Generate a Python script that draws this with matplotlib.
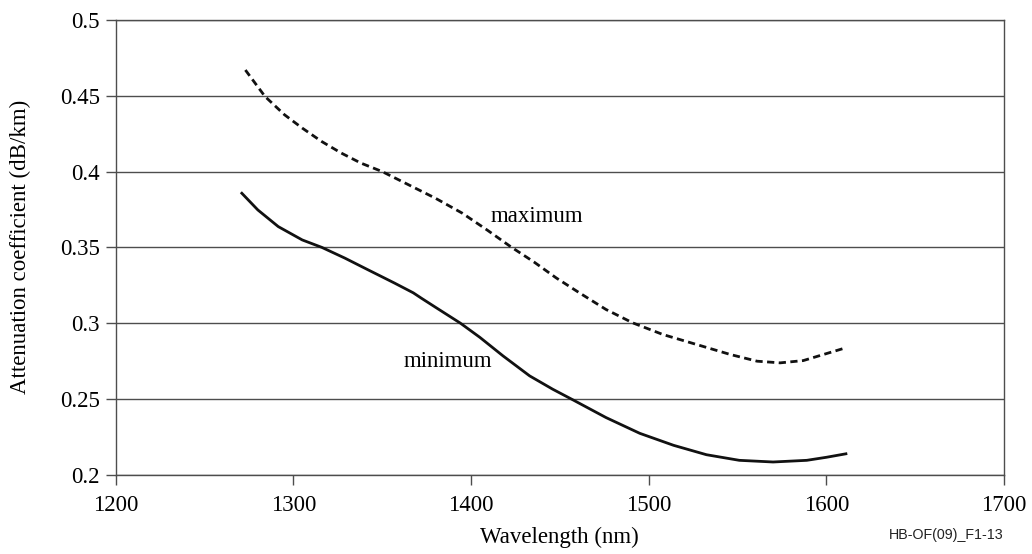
import matplotlib
matplotlib.use("Agg")
import matplotlib.pyplot as plt

# Werte
wl_min = [1271, 1280, 1291.5, 1305, 1316, 1329, 1342, 1349, 1357, 1367.5, 1372,
          1380.5, 1394, 1405, 1418, 1433, 1446, 1457.5, 1476, 1495, 1514, 1532.5,
          1551, 1570, 1589, 1600, 1611]
att_min = [0.3857, 0.3747, 0.3637, 0.3549, 0.350, 0.3429, 0.3352, 0.3311, 0.3264,
           0.3200, 0.3165, 0.3101, 0.300, 0.2906, 0.2784, 0.2652, 0.2564, 0.2493,
           0.2377, 0.2273, 0.2194, 0.2132, 0.2095, 0.2084, 0.2095, 0.2115, 0.2138]

wl_max = [1273, 1284, 1295, 1305, 1316, 1327, 1338, 1350, 1365, 1380, 1395,
          1409, 1422.5, 1435.5, 1448, 1461, 1476, 1491, 1508, 1527, 1546, 1561,
          1574, 1587, 1600, 1610.5]
att_max = [0.467, 0.4496, 0.4375, 0.4287, 0.4198, 0.4122, 0.4056, 0.400, 0.3912,
           0.3824, 0.3726, 0.3615, 0.3503, 0.3403, 0.3298, 0.320, 0.309, 0.3002,
           0.2925, 0.2859, 0.2793, 0.2749, 0.2738, 0.2753, 0.2799, 0.2836]

x_ticks = [1200, 1300, 1400, 1500, 1600, 1700]
y_ticks = [0.2, 0.25, 0.3, 0.35, 0.4, 0.45, 0.5]
y_tick_labels = ["0.2", "0.25", "0.3", "0.35", "0.4", "0.45", "0.5"]

plt.rcParams['font.family'] = ['Liberation Serif', 'DejaVu Serif']
grid_col = '#4d4d4d'

fig = plt.figure(figsize=(10.32, 5.54), dpi=100)
ax = fig.add_axes([0.1121, 0.1431, 0.8608, 0.8208])

ax.plot(wl_max, att_max, color='#111111', lw=2.0, ls=(0, (2.6, 1.6)))
ax.plot(wl_min, att_min, color='#111111', lw=2.0)

ax.set_xlim(1200, 1700)
ax.set_ylim(0.2, 0.5)
ax.set_xticks(x_ticks)
ax.set_yticks(y_ticks)
ax.set_yticklabels(y_tick_labels)
ax.yaxis.grid(True, color=grid_col, lw=1.0)
ax.set_axisbelow(True)
for s in ax.spines.values():
    s.set_color(grid_col)
    s.set_linewidth(1.0)
ax.tick_params(axis='both', direction='out', length=7.5, width=1.0, color=grid_col,
               labelsize=16.5)
ax.tick_params(axis='y', pad=4)
ax.tick_params(axis='x', pad=7)

ax.set_xlabel("Wavelength (nm)", fontsize=16.5, labelpad=8)
ax.set_ylabel("Attenuation coefficient (dB/km)", fontsize=16.5, labelpad=21)

ax.text(1437, 0.3703, "maximum", fontsize=16.5, ha='center', va='center')
ax.text(1387, 0.2747, "minimum", fontsize=16.5, ha='center', va='center')

fig.text(0.9729, 0.034, "HB-OF(09)_F1-13", fontsize=10.3, ha='right', va='center',
         family=['Liberation Sans', 'DejaVu Sans'], color='#222222')

fig.savefig("out.png", dpi=100)
